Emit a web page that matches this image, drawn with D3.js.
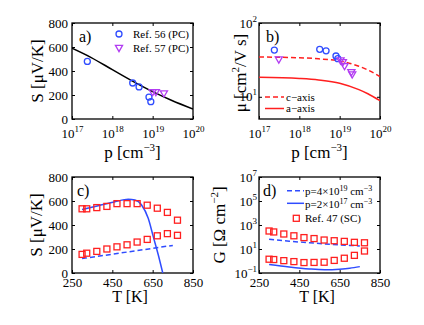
<!DOCTYPE html>
<html>
<head>
<meta charset="utf-8">
<script src="https://cdn.jsdelivr.net/npm/d3@7/dist/d3.min.js"></script>
<style>
  body { margin: 0; background: #fff; }
  text { font-family: "Liberation Serif", "Times New Roman", serif; fill: #000; }
</style>
</head>
<body>
<div id="chart"></div>
<script>
// ---- data ----
// a) Seebeck vs p
const curveP = [1e17, 3e17, 1e18, 3e18, 1e19, 3e19, 1e20];
const curveS = [590, 512, 411, 320, 228, 154, 83];
const ref56P = [2.4e17, 3.2e18, 4.6e18, 8.1e18, 9e18];
const ref56S = [480, 300, 267, 183, 144];
const ref57P = [1e19, 1.2e19, 1.9e19];
const ref57S = [228, 228, 218];

// b) mobility vs p
const mobP = [1e17, 1e18, 3e18, 1e19, 3e19, 5e19, 1e20];
const muC = [34.6, 33.8, 32.7, 30.6, 25.9, 23.1, 18.7];
const muA = [18.4, 17.7, 16.9, 15.3, 12.5, 11.0, 8.85];
const ref56Mu = [43, 44, 42, 35.7, 32.8];
const ref57bP = [3.1e17, 1.05e19, 1.2e19, 1.32e19, 1.95e19, 2.05e19];
const ref57Mu = [32.5, 31.5, 29.9, 26.4, 21.9, 20.4];

// c) / d) vs temperature
const tempT = [300, 323, 373, 423, 473, 523, 573, 623, 673, 723, 773];
const sHigh = [535, 535, 545, 555, 578, 578, 578, 565, 540, 505, 440];
const sLow = [155, 165, 180, 200, 218, 235, 258, 280, 310, 328, 314];
const gHigh = [316, 263, 178, 126, 89, 74, 56, 49, 43, 36, 33];
const gLow = [1.41, 1.32, 1.07, 0.89, 0.74, 0.76, 0.79, 1.12, 1.7, 2.95, 6.8];

const sSolidT = [300, 380, 463, 529, 562, 595, 628, 653, 678, 700];
const sSolid = [530, 561, 594, 614, 608, 567, 456, 303, 150, 0];
const sDashT = [300, 525, 750];
const sDash = [120, 175, 230];
const gDashT = [300, 400, 500, 600, 700, 750];
const gDash = [65, 45, 33, 25, 20, 18];
const gSolidT = [300, 400, 500, 575, 650, 700, 750];
const gSolid = [0.52, 0.32, 0.22, 0.19, 0.21, 0.25, 0.34];

const pTicks = [1e17, 1e18, 1e19, 1e20];
const sTicks = [0, 200, 400, 600, 800];
const tTicks = [250, 450, 650, 850];
const muTicks = [10, 100];
const gTicks = [1e-1, 1e1, 1e3, 1e5, 1e7];

const blue = '#2f4cff', red = '#ff1f1f', purple = '#b23cf2';

const svg = d3.select('#chart').append('svg')
  .attr('width', 424).attr('height', 325);

const W = 121, H = 96;

function sup(sel, base, exp, fs) {
  sel.text(null);
  sel.append('tspan').text(base);
  sel.append('tspan').attr('dy', -6).attr('font-size', fs).text(exp);
}

function expLabel(d) {
  const e = Math.round(Math.log10(d));
  return e < 0 ? '\u2212' + (-e) : String(e);
}

function panel(left, top, x, y, opt) {
  const g = svg.append('g').attr('transform', `translate(${left},${top})`);
  // x axis bottom
  const xa = g.append('g').attr('transform', `translate(0,${H})`)
    .call(d3.axisBottom(x).tickValues(opt.xTicks).tickSize(-3).tickPadding(opt.xLog ? 10 : 5));
  g.append('g').call(d3.axisTop(x).tickValues(opt.xTicks).tickSize(-3).tickFormat(''));
  const ya = g.append('g')
    .call(d3.axisLeft(y).tickValues(opt.yTicks).tickSize(-3).tickPadding(opt.yLog ? 2 : 4));
  g.append('g').attr('transform', `translate(${W},0)`)
    .call(d3.axisRight(y).tickValues(opt.yTicks).tickSize(-3).tickFormat(''));
  g.selectAll('.domain').remove();
  g.selectAll('.tick line').attr('stroke', '#000');
  g.selectAll('.tick text').attr('font-size', 13).attr('font-family', null);
  if (opt.xLog) xa.selectAll('.tick text').each(function (d) { sup(d3.select(this), '10', expLabel(d), 9); });
  if (opt.yLog) ya.selectAll('.tick text').each(function (d) { sup(d3.select(this), '10', expLabel(d), 9); });

  g.append('rect').attr('width', W).attr('height', H)
    .attr('fill', 'none').attr('stroke', '#000').attr('stroke-width', 1.3);

  const clipId = 'clip' + opt.tag;
  g.append('clipPath').attr('id', clipId).append('rect').attr('width', W).attr('height', H);
  const plot = g.append('g').attr('clip-path', `url(#${clipId})`);

  g.append('text').attr('x', opt.tagX).attr('y', 19).attr('font-size', 16).text(opt.tag + ')');
  return { g, plot };
}

function line(plot, x, y, xs, ys, color, dashed) {
  plot.append('path')
    .datum(xs.map((v, i) => [v, ys[i]]))
    .attr('fill', 'none').attr('stroke', color).attr('stroke-width', 1.5)
    .attr('stroke-dasharray', dashed ? '5,3' : null)
    .attr('d', d3.line().x(d => x(d[0])).y(d => y(d[1])).curve(d3.curveMonotoneX));
}

function circles(g, x, y, xs, ys) {
  g.selectAll(null).data(xs.map((v, i) => [v, ys[i]])).join('circle')
    .attr('cx', d => x(d[0])).attr('cy', d => y(d[1])).attr('r', 3)
    .attr('fill', 'none').attr('stroke', blue).attr('stroke-width', 1.3);
}

const triSym = d3.symbol().type(d3.symbolTriangle).size(22);
function triangles(g, x, y, xs, ys) {
  g.selectAll(null).data(xs.map((v, i) => [v, ys[i]])).join('path')
    .attr('d', triSym)
    .attr('transform', d => `translate(${x(d[0])},${y(d[1])}) rotate(180)`)
    .attr('fill', 'none').attr('stroke', purple).attr('stroke-width', 1.3);
}

function squares(g, x, y, xs, ys) {
  g.selectAll(null).data(xs.map((v, i) => [v, ys[i]])).join('rect')
    .attr('x', d => x(d[0]) - 3).attr('y', d => y(d[1]) - 3)
    .attr('width', 6).attr('height', 6)
    .attr('fill', 'none').attr('stroke', red).attr('stroke-width', 1.3);
}

function yLabel(cx, cy, parts) {
  const t = svg.append('text').attr('transform', `translate(${cx},${cy}) rotate(-90)`)
    .attr('text-anchor', 'middle').attr('font-size', 17);
  parts.forEach(p => {
    if (p.sup) t.append('tspan').attr('dy', -7).attr('font-size', 11).text(p.sup);
    else t.append('tspan').attr('dy', p.back ? 7 : null).text(p.t);
  });
}
function xLabel(cx, cy, parts, fs) {
  const t = svg.append('text').attr('x', cx).attr('y', cy)
    .attr('text-anchor', 'middle').attr('font-size', fs || 17);
  parts.forEach(p => {
    if (p.sup) t.append('tspan').attr('dy', -7).attr('font-size', 11).text(p.sup);
    else t.append('tspan').attr('dy', p.back ? 7 : null).text(p.t);
  });
}

// ---- panel a ----
const xa = d3.scaleLog().domain([1e17, 1e20]).range([0, W]);
const ya = d3.scaleLinear().domain([0, 800]).range([H, 0]);
const A = panel(72, 23, xa, ya, { xTicks: pTicks, yTicks: sTicks, xLog: true, tag: 'a', tagX: 7 });
line(A.plot, xa, ya, curveP, curveS, '#000', false);
circles(A.plot, xa, ya, ref56P, ref56S);
triangles(A.plot, xa, ya, ref57P, ref57S);
A.g.append('circle').attr('cx', 47).attr('cy', 11).attr('r', 3)
  .attr('fill', 'none').attr('stroke', blue).attr('stroke-width', 1.3);
A.g.append('path').attr('d', triSym).attr('transform', 'translate(47,24.5) rotate(180)')
  .attr('fill', 'none').attr('stroke', purple).attr('stroke-width', 1.3);
A.g.append('text').attr('x', 61).attr('y', 15).attr('font-size', 11).text('Ref. 56 (PC)');
A.g.append('text').attr('x', 61).attr('y', 28.5).attr('font-size', 11).text('Ref. 57 (PC)');
yLabel(43, 71, [{ t: 'S [\u03bcV/K]' }]);
xLabel(132.5, 158, [{ t: 'p [cm' }, { sup: '\u22123' }, { t: ']', back: true }]);

// ---- panel b ----
const xb = d3.scaleLog().domain([1e17, 1e20]).range([0, W]);
const yb = d3.scaleLog().domain([5, 100]).range([H, 0]);
const B = panel(259, 23, xb, yb, { xTicks: pTicks, yTicks: muTicks, xLog: true, yLog: true, tag: 'b', tagX: 7 });
line(B.plot, xb, yb, mobP, muC, red, true);
line(B.plot, xb, yb, mobP, muA, red, false);
circles(B.plot, xb, yb, ref56P, ref56Mu);
triangles(B.plot, xb, yb, ref57bP, ref57Mu);
B.g.append('line').attr('x1', 6).attr('x2', 25).attr('y1', 74).attr('y2', 74)
  .attr('stroke', red).attr('stroke-width', 1.5).attr('stroke-dasharray', '5,3');
B.g.append('line').attr('x1', 6).attr('x2', 25).attr('y1', 85.5).attr('y2', 85.5)
  .attr('stroke', red).attr('stroke-width', 1.5);
B.g.append('text').attr('x', 27).attr('y', 77.5).attr('font-size', 11).text('c\u2212axis');
B.g.append('text').attr('x', 27).attr('y', 89).attr('font-size', 11).text('a\u2212axis');
yLabel(246, 73, [{ t: '\u03bc [cm' }, { sup: '2' }, { t: '/V s]', back: true }]);
xLabel(319.5, 158, [{ t: 'p [cm' }, { sup: '\u22123' }, { t: ']', back: true }]);

// ---- panel c ----
const xc = d3.scaleLinear().domain([250, 850]).range([0, W]);
const yc = d3.scaleLinear().domain([0, 800]).range([H, 0]);
const C = panel(72, 177, xc, yc, { xTicks: tTicks, yTicks: sTicks, tag: 'c', tagX: 5 });
line(C.plot, xc, yc, sSolidT, sSolid, blue, false);
line(C.plot, xc, yc, sDashT, sDash, blue, true);
squares(C.plot, xc, yc, tempT, sHigh);
squares(C.plot, xc, yc, tempT, sLow);
yLabel(42, 225, [{ t: 'S [\u03bcV/K]' }]);
xLabel(130, 302, [{ t: 'T [K]' }], 16);

// ---- panel d ----
const xd = d3.scaleLinear().domain([250, 850]).range([0, W]);
const yd = d3.scaleLog().domain([1e-1, 1e7]).range([H, 0]);
const D = panel(259, 177, xd, yd, { xTicks: tTicks, yTicks: gTicks, yLog: true, tag: 'd', tagX: 4 });
line(D.plot, xd, yd, gDashT, gDash, blue, true);
line(D.plot, xd, yd, gSolidT, gSolid, blue, false);
squares(D.plot, xd, yd, tempT, gHigh);
squares(D.plot, xd, yd, tempT, gLow);
D.g.append('line').attr('x1', 28).attr('x2', 45).attr('y1', 13.7).attr('y2', 13.7)
  .attr('stroke', blue).attr('stroke-width', 1.5).attr('stroke-dasharray', '5,3');
D.g.append('line').attr('x1', 28).attr('x2', 45).attr('y1', 26.3).attr('y2', 26.3)
  .attr('stroke', blue).attr('stroke-width', 1.5);
D.g.append('rect').attr('x', 34.3).attr('y', 38.3).attr('width', 6).attr('height', 6)
  .attr('fill', 'none').attr('stroke', red).attr('stroke-width', 1.3);
function legendSup(t, parts) {
  parts.forEach(p => {
    if (p.sup) t.append('tspan').attr('dy', -4).attr('font-size', 8).text(p.sup);
    else t.append('tspan').attr('dy', p.back ? 4 : null).text(p.t);
  });
}
legendSup(D.g.append('text').attr('x', 46).attr('y', 18).attr('font-size', 11),
  [{ t: 'p=4\u00d710' }, { sup: '19' }, { t: ' cm', back: true }, { sup: '\u22123' }]);
legendSup(D.g.append('text').attr('x', 46).attr('y', 31).attr('font-size', 11),
  [{ t: 'p=2\u00d710' }, { sup: '17' }, { t: ' cm', back: true }, { sup: '\u22123' }]);
D.g.append('text').attr('x', 46).attr('y', 45).attr('font-size', 11).text('Ref. 47 (SC)');
yLabel(225, 225, [{ t: 'G [\u03a9 cm' }, { sup: '\u22122' }, { t: ']', back: true }]);
xLabel(317, 302, [{ t: 'T [K]' }], 16);
</script>
</body>
</html>
